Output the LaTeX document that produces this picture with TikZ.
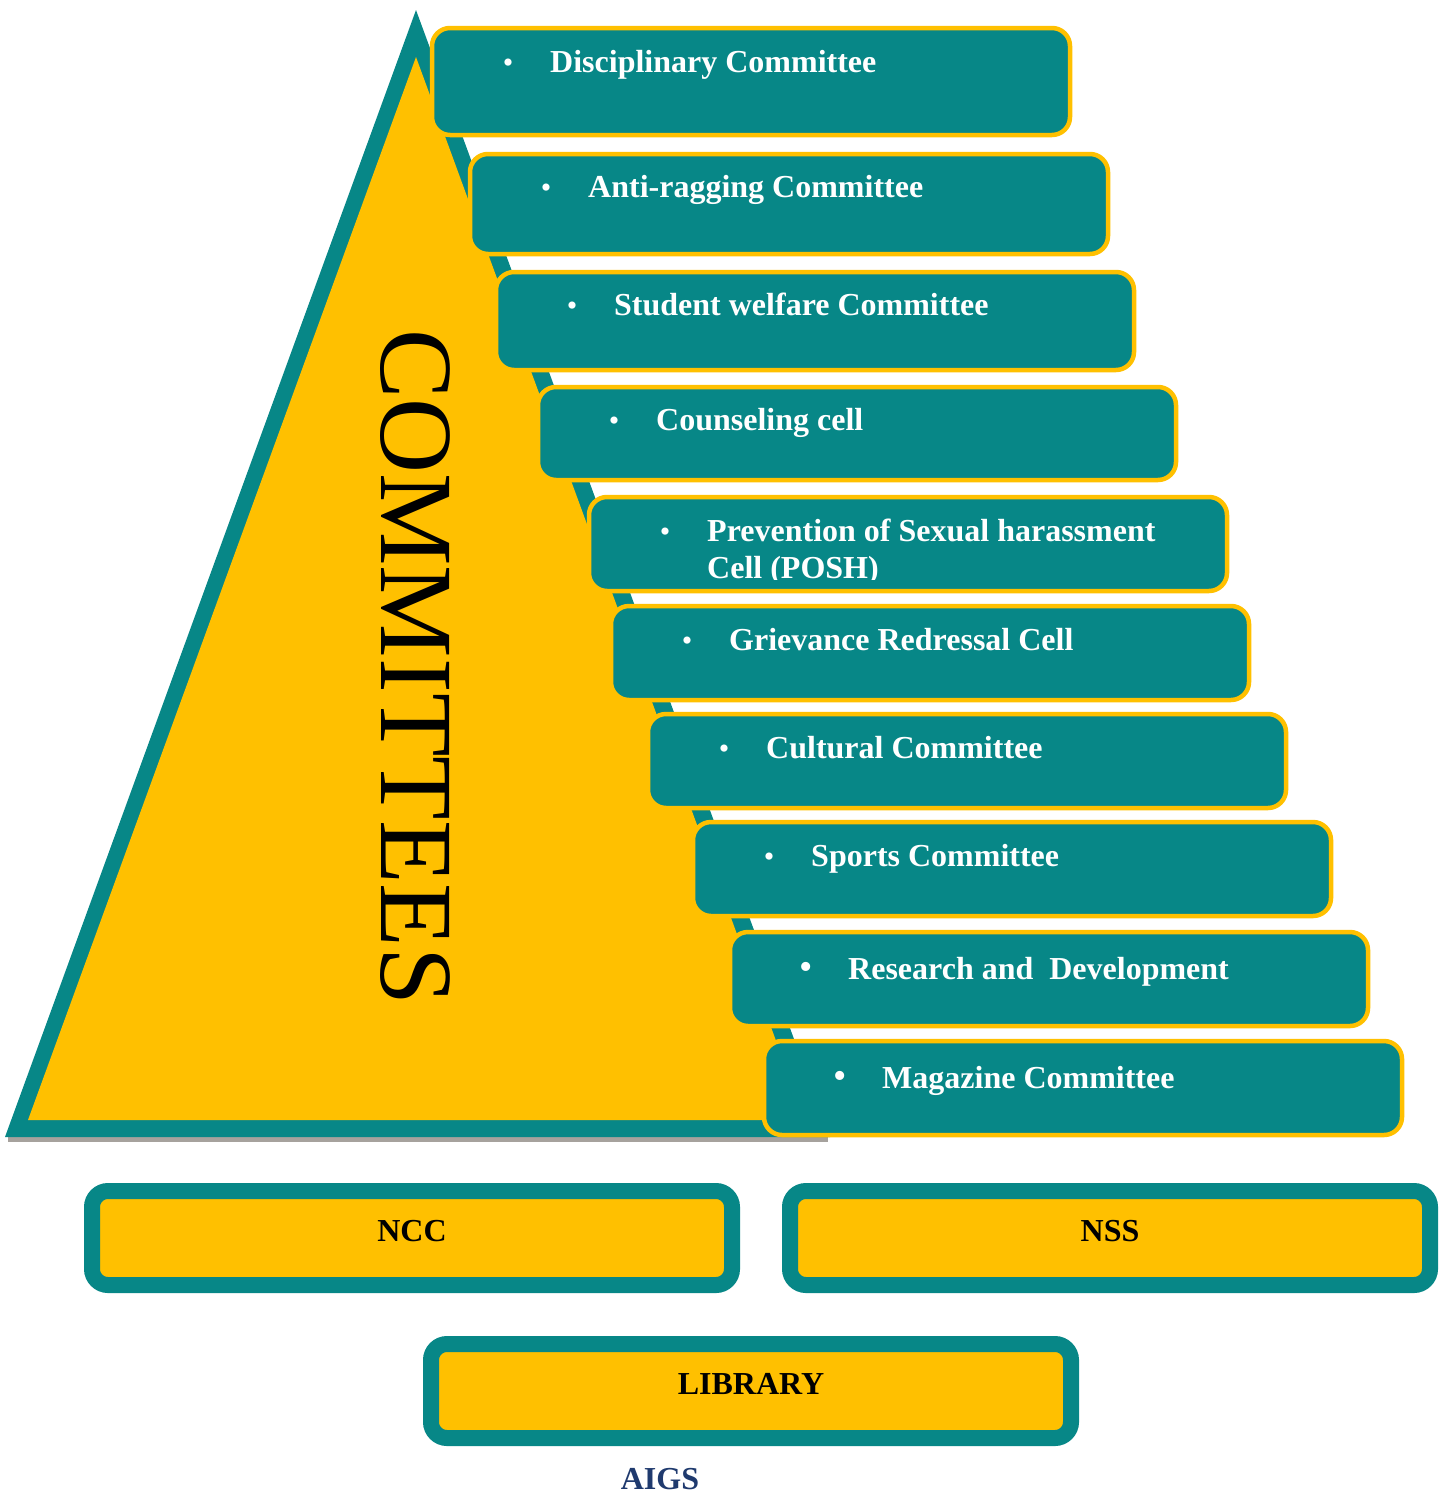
\documentclass[tikz,border=0pt]{standalone}
\usepackage{fontspec}
\setmainfont{Liberation Serif}
\usetikzlibrary{calc}
\definecolor{tealc}{HTML}{078787}
\definecolor{gold}{HTML}{FFC000}
\definecolor{shadowc}{HTML}{A6A29D}
\definecolor{navy}{HTML}{1F3A6E}
\tikzset{
 cbox/.style={draw=gold, line width=4.5pt, fill=tealc, rounded corners=18pt, anchor=north west, minimum width=638pt, inner sep=0pt, outer sep=0pt},
 ctext/.style={anchor=base west, inner sep=0pt, text=white, font=\fontsize{32}{36}\selectfont\bfseries},
 cbullet/.style={anchor=base, inner sep=0pt, text=white, font=\fontsize{30}{30}\selectfont},
 bigbullet/.style={anchor=base, inner sep=0pt, text=white, font=\fontsize{38}{38}\selectfont},
 bbox/.style={draw=tealc, line width=16pt, fill=gold, rounded corners=16pt, minimum width=640pt, minimum height=94pt, inner sep=0pt, outer sep=0pt},
 btext/.style={inner sep=0pt, font=\fontsize{32}{36}\selectfont\bfseries},
}
\begin{document}
\begin{tikzpicture}[x=1pt,y=-1pt]
\useasboundingbox (0,0) rectangle (1447,1494);
% pyramid
\fill[shadowc] (8,1135) rectangle (828,1142);
\fill[tealc] (416,10) -- (5,1137) -- (830,1137) -- cycle;
\fill[gold] (416,57) -- (28,1120) -- (805,1120) -- cycle;
\node[rotate=-90, inner sep=0pt, font=\fontsize{104}{104}\selectfont] (title) at (415,667) {COMMITTEES};
% committee boxes
\node[cbox, minimum height=107pt] (b1) at (432,28) {};
\node[cbox, minimum height=100pt] (b2) at (470,154) {};
\node[cbox, minimum height=98pt] (b3) at (496,272) {};
\node[cbox, minimum height=93pt] (b4) at (538,387) {};
\node[cbox, minimum height=94pt] (b5) at (589,497) {};
\node[cbox, minimum height=94pt] (b6) at (611,606) {};
\node[cbox, minimum height=94pt] (b7) at (648,714) {};
\node[cbox, minimum height=94pt] (b8) at (693,822) {};
\node[cbox, minimum height=94pt] (b9) at (730,932) {};
\node[cbox, minimum height=94pt] (b10) at (764,1041) {};
% texts
\node[cbullet] (u1) at ($(b1.north west)+(76,44)$) {•};
\node[ctext] (t1) at ($(b1.north west)+(118,44)$) {Disciplinary Committee};
\node[cbullet] (u2) at ($(b2.north west)+(76,43)$) {•};
\node[ctext] (t2) at ($(b2.north west)+(118,43)$) {Anti-ragging Committee};
\node[cbullet] (u3) at ($(b3.north west)+(76,43)$) {•};
\node[ctext] (t3) at ($(b3.north west)+(118,43)$) {Student welfare Committee};
\node[cbullet] (u4) at ($(b4.north west)+(76,43)$) {•};
\node[ctext] (t4) at ($(b4.north west)+(118,43)$) {Counseling cell};
\node[cbullet] (u5) at ($(b5.north west)+(76,44)$) {•};
\begin{scope}
\clip (589,497) rectangle (1227,579);
\node[ctext] (t5) at ($(b5.north west)+(118,44)$) {Prevention of Sexual harassment};
\node[ctext] (t5b) at ($(b5.north west)+(118,81)$) {Cell (POSH)};
\end{scope}
\node[cbullet] (u6) at ($(b6.north west)+(76,44)$) {•};
\node[ctext] (t6) at ($(b6.north west)+(118,44)$) {Grievance Redressal Cell};
\node[cbullet] (u7) at ($(b7.north west)+(76,44)$) {•};
\node[ctext] (t7) at ($(b7.north west)+(118,44)$) {Cultural Committee};
\node[cbullet] (u8) at ($(b8.north west)+(76,44)$) {•};
\node[ctext] (t8) at ($(b8.north west)+(118,44)$) {Sports Committee};
\node[bigbullet] (u9) at ($(b9.north west)+(76,47)$) {•};
\node[ctext] (t9) at ($(b9.north west)+(118,47)$) {Research and\ \ Development};
\node[bigbullet] (u10) at ($(b10.north west)+(76,47)$) {•};
\node[ctext] (t10) at ($(b10.north west)+(118,47)$) {Magazine Committee};
% bottom boxes
\node[bbox] (ncc) at (412,1238) {};
\node[btext] (ncct) at ($(ncc.center)+(0,-7)$) {NCC};
\node[bbox] (nss) at (1110,1238) {};
\node[btext] (nsst) at ($(nss.center)+(0,-7)$) {NSS};
\node[bbox] (lib) at (751,1391) {};
\node[btext] (libt) at ($(lib.center)+(0,-7)$) {LIBRARY};
\node[btext, text=navy] (aigs) at (660,1479) {AIGS};
\end{tikzpicture}
\end{document}
